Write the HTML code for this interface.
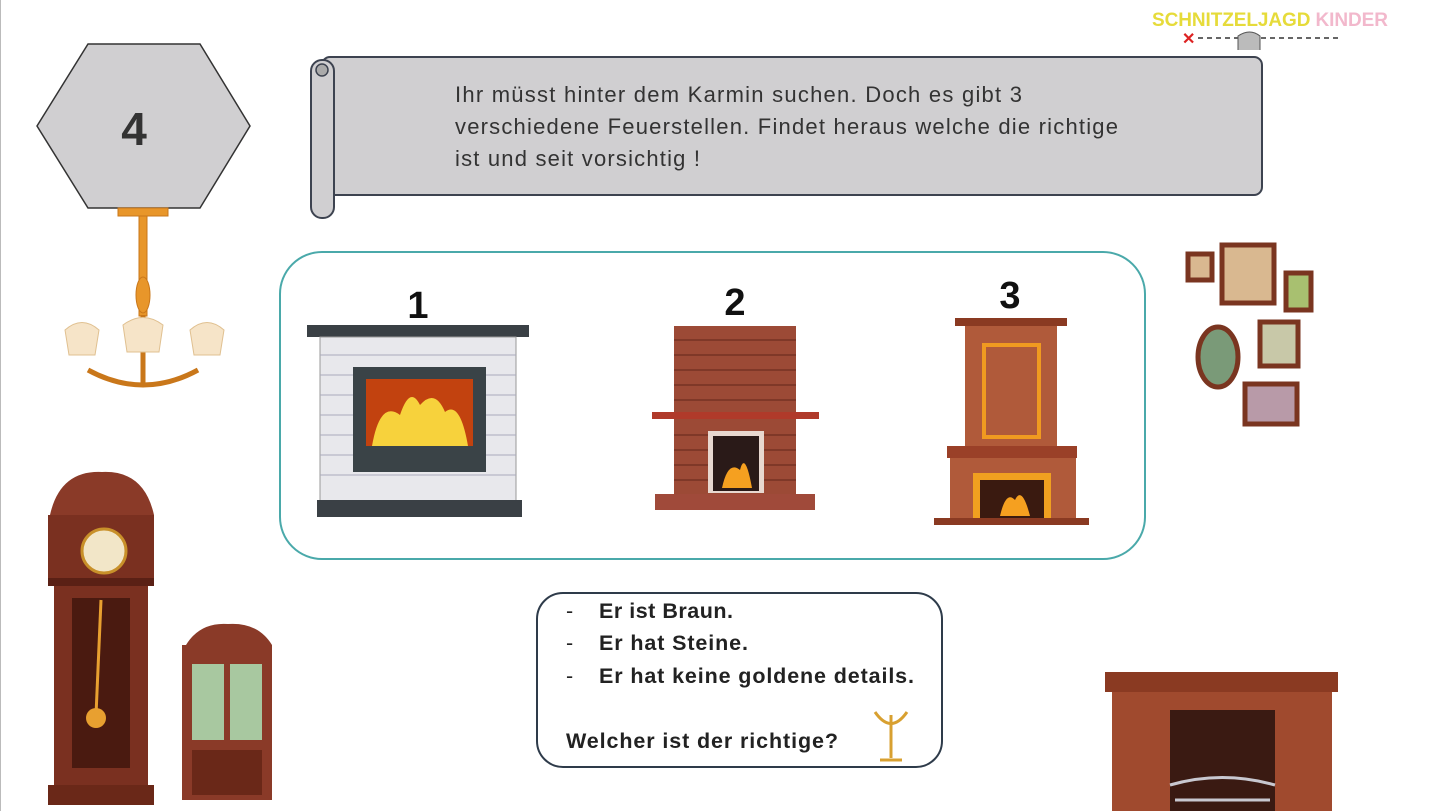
<!DOCTYPE html>
<html><head><meta charset="utf-8"><style>
body{margin:0;background:#fff;width:1445px;height:811px;overflow:hidden}
svg{display:block;font-family:"Liberation Sans",sans-serif}
</style></head><body>
<svg width="1445" height="811" viewBox="0 0 1445 811">
<rect width="1445" height="811" fill="#fff"/>
<line x1="0.5" y1="0" x2="0.5" y2="811" stroke="#bbb"/>
<polygon points="37,126 88,44 200,44 250,126 200,208 88,208" fill="#d0cfd1" stroke="#333" stroke-width="1.5"/>
<text x="134" y="145" font-size="46" font-weight="bold" fill="#333" text-anchor="middle">4</text>
<g fill="#e8962a" stroke="#c9771a">
<rect x="118" y="208" width="50" height="8"/>
<rect x="139" y="216" width="8" height="100"/>
<ellipse cx="143" cy="295" rx="7" ry="18"/>
<path d="M88 370 Q143 400 198 370" fill="none" stroke-width="5"/>
<path d="M143 315 L143 385" stroke-width="5"/>
</g>
<g fill="#f6e4c8" stroke="#e0c090">
<path d="M65 330 Q82 315 99 330 L95 355 L69 355Z"/>
<path d="M123 325 Q143 310 163 325 L159 352 L127 352Z"/>
<path d="M190 330 Q207 315 224 330 L220 355 L194 355Z"/>
</g>
<rect x="322" y="57" width="940" height="138" rx="8" fill="#d0cfd1" stroke="#3d4350" stroke-width="2"/>
<rect x="311" y="60" width="23" height="158" rx="11" fill="#d0cfd1" stroke="#3d4350" stroke-width="2"/>
<circle cx="322" cy="70" r="6" fill="#aaa" stroke="#3d4350" stroke-width="1.5"/>
<g font-size="22" fill="#333">
<text x="455" y="102" textLength="567" lengthAdjust="spacing">Ihr müsst hinter dem Karmin suchen. Doch es gibt 3</text>
<text x="455" y="134" textLength="663" lengthAdjust="spacing">verschiedene Feuerstellen. Findet heraus welche die richtige</text>
<text x="455" y="166" textLength="245" lengthAdjust="spacing">ist und seit vorsichtig !</text>
</g>
<text x="1152" y="26" font-size="19" font-weight="bold" fill="#e6db3a" textLength="236">SCHNITZELJAGD <tspan fill="#f2b8cc">KINDER</tspan></text>
<text x="1182" y="44" font-size="16" font-weight="bold" fill="#d22">✕</text>
<line x1="1198" y1="38" x2="1340" y2="38" stroke="#333" stroke-dasharray="5,4" stroke-width="1.5"/>
<path d="M1238 50 L1238 36 Q1250 28 1260 36 L1260 50" fill="#bbb" stroke="#555"/>
<rect x="280" y="252" width="865" height="307" rx="42" fill="none" stroke="#4aa9aa" stroke-width="2"/>
<g font-size="38" font-weight="bold" fill="#111" text-anchor="middle">
<text x="418" y="318">1</text><text x="735" y="315">2</text><text x="1010" y="308">3</text>
</g>
<rect x="307" y="325" width="222" height="12" fill="#3a4045"/>
<rect x="320" y="337" width="196" height="164" fill="#e8e8ec" stroke="#999"/>
<g stroke="#aab" stroke-width="1">
<line x1="320" y1="355" x2="516" y2="355"/><line x1="320" y1="375" x2="516" y2="375"/><line x1="320" y1="395" x2="516" y2="395"/><line x1="320" y1="415" x2="516" y2="415"/><line x1="320" y1="435" x2="516" y2="435"/><line x1="320" y1="455" x2="516" y2="455"/><line x1="320" y1="475" x2="516" y2="475"/>
</g>
<rect x="353" y="367" width="133" height="105" fill="#3a4347"/>
<rect x="366" y="379" width="107" height="67" fill="#c2420f"/>
<path d="M372 446 Q380 400 400 415 Q410 385 420 405 Q435 388 445 412 Q460 400 468 446Z" fill="#f7d23c"/>
<rect x="317" y="500" width="205" height="17" fill="#3a4045"/>
<rect x="674" y="326" width="122" height="170" fill="#9c4a36"/>
<g stroke="#6e2e20" stroke-width="1.2">
<line x1="674" y1="340" x2="796" y2="340"/><line x1="674" y1="355" x2="796" y2="355"/><line x1="674" y1="370" x2="796" y2="370"/><line x1="674" y1="385" x2="796" y2="385"/><line x1="674" y1="400" x2="796" y2="400"/><line x1="674" y1="435" x2="796" y2="435"/><line x1="674" y1="450" x2="796" y2="450"/><line x1="674" y1="465" x2="796" y2="465"/><line x1="674" y1="480" x2="796" y2="480"/>
</g>
<rect x="652" y="412" width="167" height="7" fill="#b03a2a"/>
<rect x="708" y="431" width="56" height="62" fill="#e8d8d0"/>
<rect x="713" y="436" width="46" height="55" fill="#2a1a18"/>
<path d="M722 488 Q728 460 740 470 Q745 450 752 488Z" fill="#f5a020"/>
<rect x="655" y="494" width="160" height="16" fill="#a04a3a"/>
<rect x="955" y="318" width="112" height="8" fill="#8a3a22"/>
<rect x="965" y="326" width="92" height="120" fill="#b05a3a"/>
<rect x="984" y="345" width="55" height="92" fill="none" stroke="#f09a20" stroke-width="4"/>
<rect x="947" y="446" width="130" height="12" fill="#9a4028"/>
<rect x="950" y="458" width="126" height="60" fill="#b05a3a"/>
<rect x="973" y="473" width="78" height="45" fill="#f0a020"/>
<rect x="980" y="480" width="64" height="38" fill="#3a1a10"/>
<path d="M1000 516 Q1006 490 1015 500 Q1022 485 1030 516Z" fill="#f5a020"/>
<rect x="934" y="518" width="155" height="7" fill="#8a3a22"/>
<g stroke="#7a3520" stroke-width="5" fill="#d9b890">
<rect x="1222" y="245" width="52" height="58"/>
<rect x="1188" y="254" width="24" height="26"/>
<rect x="1286" y="273" width="25" height="37" fill="#a8c070"/>
<rect x="1260" y="322" width="38" height="44" fill="#c8c8a8"/>
<ellipse cx="1218" cy="357" rx="20" ry="30" fill="#7a9a78"/>
<rect x="1245" y="384" width="52" height="40" fill="#b89aa8"/>
</g>
<path d="M50 515 Q60 470 102 472 Q144 470 154 515Z" fill="#8a3a28"/>
<rect x="48" y="515" width="106" height="68" fill="#7a3020"/>
<circle cx="104" cy="551" r="22" fill="#f2e6c8" stroke="#c8902a" stroke-width="3"/>
<rect x="48" y="578" width="106" height="8" fill="#5a2015"/>
<rect x="54" y="586" width="94" height="200" fill="#7a3020"/>
<rect x="72" y="598" width="58" height="170" fill="#4a1a10"/>
<line x1="101" y1="600" x2="96" y2="715" stroke="#e8a030" stroke-width="3"/>
<circle cx="96" cy="718" r="10" fill="#e8a030"/>
<rect x="48" y="785" width="106" height="20" fill="#6a2818"/>
<path d="M186 645 Q200 622 228 624 Q258 622 272 645Z" fill="#8a3a28"/>
<rect x="182" y="645" width="90" height="155" fill="#8a3a28"/>
<rect x="192" y="664" width="32" height="76" fill="#a8c8a0"/>
<rect x="230" y="664" width="32" height="76" fill="#a8c8a0"/>
<rect x="192" y="750" width="70" height="45" fill="#6a2818"/>
<rect x="537" y="593" width="405" height="174" rx="26" fill="#fff" stroke="#2e3b4a" stroke-width="2"/>
<g font-size="21.5" font-weight="bold" fill="#222">
<text x="566" y="618" font-weight="normal">-</text><text x="599" y="618" textLength="134">Er ist Braun.</text>
<text x="566" y="650" font-weight="normal">-</text><text x="599" y="650" textLength="149">Er hat Steine.</text>
<text x="566" y="683" font-weight="normal">-</text><text x="599" y="683" textLength="315">Er hat keine goldene details.</text>
<text x="566" y="748" textLength="272">Welcher ist der richtige?</text>
</g>
<g stroke="#d8a030" stroke-width="3" fill="none">
<line x1="891" y1="715" x2="891" y2="758"/><path d="M875 712 Q891 735 907 712"/><line x1="880" y1="760" x2="902" y2="760"/>
</g>
<rect x="1105" y="672" width="233" height="20" fill="#8a3a22"/>
<rect x="1112" y="692" width="220" height="119" fill="#a04a2e"/>
<rect x="1170" y="710" width="105" height="101" fill="#3a1a12"/>
<g stroke="#c8c8d0" stroke-width="3" fill="none"><path d="M1170 785 Q1222 770 1275 785 M1175 800 L1270 800"/></g>
</svg>
</body></html>
